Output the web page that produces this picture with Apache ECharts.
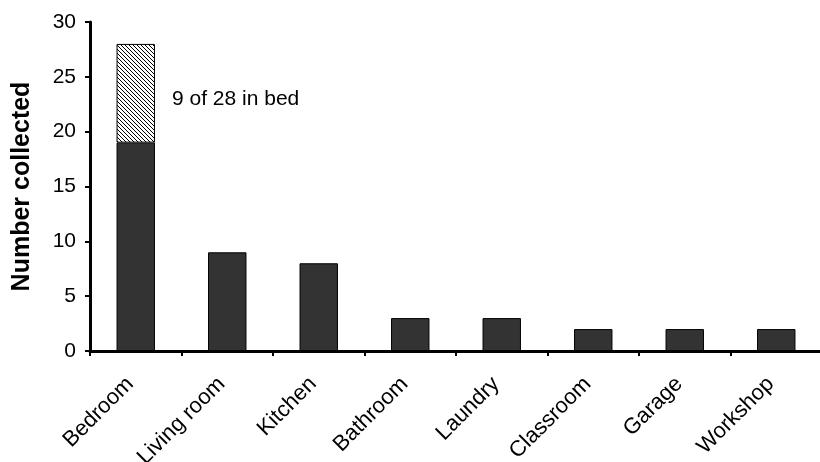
<!DOCTYPE html>
<html>
<head>
<meta charset="utf-8">
<script src="https://cdn.jsdelivr.net/npm/echarts@6/dist/echarts.min.js"></script>
<style>
html,body{margin:0;padding:0;background:#fff;}
#chart{width:820px;height:462px;}
</style>
</head>
<body>
<div id="chart"></div>
<script>
const categories = ['Bedroom', 'Living room', 'Kitchen', 'Bathroom', 'Laundry', 'Classroom', 'Garage', 'Workshop'];
const notInBed = [19, 9, 8, 3, 3, 2, 2, 2];
const inBed = [9, null, null, null, null, null, null, null];
const yTicks = { min: 0, max: 30, interval: 5 };
const yName = 'Number collected';

const font = 'Arial, "Liberation Sans", sans-serif';

// hatch pattern
const pc = document.createElement('canvas');
pc.width = 4; pc.height = 4;
const px = pc.getContext('2d');
px.fillStyle = '#fff';
px.fillRect(0, 0, 4, 4);
px.strokeStyle = '#000';
px.lineWidth = 1;
for (const k of [-4, 0, 4]) {
  px.beginPath();
  px.moveTo(k - 1, -1);
  px.lineTo(k + 5, 5);
  px.stroke();
}

const chart = echarts.init(document.getElementById('chart'), null, { renderer: 'canvas' });
const total0 = notInBed[0] + inBed[0];
chart.setOption({
  animation: false,
  backgroundColor: '#fff',
  grid: { left: 90, top: 22, width: 732, bottom: 111, containLabel: false, outerBoundsMode: 'none' },
  xAxis: {
    type: 'category',
    data: categories,
    axisLine: { lineStyle: { color: '#000', width: 3 } },
    axisTick: { show: true, length: 5, lineStyle: { color: '#000', width: 2 } },
    axisLabel: { rotate: 45, margin: 24, padding: [0, 8, 0, 0], color: '#000', fontSize: 22, fontFamily: font, interval: 0 },
    splitLine: { show: false }
  },
  yAxis: {
    type: 'value',
    min: yTicks.min, max: yTicks.max, interval: yTicks.interval,
    name: yName,
    nameLocation: 'middle',
    nameGap: 55,
    nameTextStyle: { color: '#000', fontSize: 25, fontWeight: 'bold', fontFamily: font },
    axisLine: { show: true, lineStyle: { color: '#000', width: 3 } },
    axisTick: { show: true, length: 5, lineStyle: { color: '#000', width: 2 } },
    axisLabel: { margin: 14, color: '#000', fontSize: 21, fontFamily: font },
    splitLine: { show: false }
  },
  series: [
    {
      type: 'bar',
      stack: 'a',
      data: notInBed,
      barWidth: '42%',
      itemStyle: { color: '#333333', borderColor: '#000', borderWidth: 1 }
    },
    {
      type: 'bar',
      stack: 'a',
      data: inBed,
      barWidth: '42%',
      itemStyle: { color: { image: pc, repeat: 'repeat' }, borderColor: '#000', borderWidth: 1 },
      label: {
        show: true,
        position: 'right',
        distance: 17,
        offset: [0, 6],
        color: '#000',
        fontSize: 21,
        fontFamily: font,
        formatter: p => p.value == null ? '' : `${p.value} of ${total0} in bed`
      }
    }
  ]
});
</script>
</body>
</html>
